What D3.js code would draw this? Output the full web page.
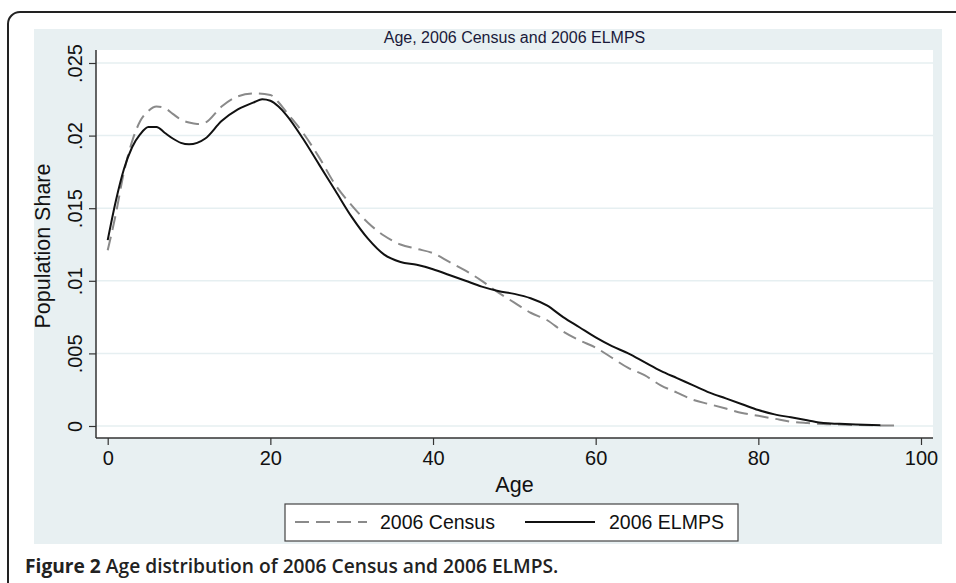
<!DOCTYPE html>
<html>
<head>
<meta charset="utf-8">
<script src="https://cdn.jsdelivr.net/npm/d3@7"></script>
<style>
  body { margin: 0; background: #fff; }
  svg { display: block; }
</style>
</head>
<body>
<svg id="chart" width="956" height="583"></svg>
<script>
// ages and density values
var censusAge = [0,1,2,3,4,5,6,7,8,9,10,11,12,14,16,18,20,21,22,24,26,28,30,32,34,36,38,40,42,44,46,48,50,52,54,56,58,60,62,64,66,68,70,72,74,76,78,80,82,84,86,88,90,92,95,97.5];
var censusShare = [0.0121,0.0146,0.0175,0.0196,0.0210,0.0217,0.0220,0.0219,0.0215,0.0211,0.0209,0.0208,0.0209,0.0220,0.0227,0.0229,0.0228,0.0223,0.0216,0.0202,0.0185,0.0166,0.0152,0.0140,0.0131,0.0125,0.0122,0.0119,0.0113,0.0107,0.0100,0.0092,0.0085,0.0078,0.0073,0.0065,0.0059,0.0054,0.0047,0.0040,0.0035,0.0028,0.0023,0.0018,0.0015,0.0012,0.0009,0.0007,0.0005,0.0003,0.0002,0.00013,0.0001,0.00007,0.00004,0.00002];

var elmpsAge = [0,1,2,3,4,5,6,7,8,9,10,11,12,14,16,18,19,20,21,22,24,26,28,30,32,34,36,38,40,42,44,46,48,50,52,54,56,58,60,62,64,66,68,70,72,74,76,78,80,82,84,86,88,90,92,95];
var elmpsShare = [0.0128,0.0155,0.0177,0.0192,0.0201,0.0206,0.0206,0.0202,0.0198,0.0195,0.0194,0.0195,0.0198,0.0210,0.0218,0.0223,0.0225,0.0224,0.0220,0.0214,0.0198,0.0180,0.0162,0.0144,0.0129,0.0118,0.0113,0.0111,0.0108,0.0104,0.0100,0.0096,0.0093,0.0091,0.0088,0.0083,0.0075,0.0068,0.0061,0.0055,0.0050,0.0044,0.0038,0.0033,0.0028,0.0023,0.0019,0.0015,0.0011,0.0008,0.0006,0.0004,0.0002,0.00015,0.0001,0.00005];

var xTicks = [0, 20, 40, 60, 80, 100];
var yTicks = [0, 0.005, 0.01, 0.015, 0.02, 0.025];
var yTickLabels = ["0", ".005", ".01", ".015", ".02", ".025"];
var seriesNames = ["2006 Census", "2006 ELMPS"];

var svg = d3.select("#chart");
var font = "'Liberation Sans', Arial, sans-serif";

// outer frame + stata background
svg.append("rect").attr("x", 8).attr("y", 12).attr("width", 970).attr("height", 600)
  .attr("rx", 12).attr("fill", "#fff").attr("stroke", "#222").attr("stroke-width", 2);
svg.append("rect").attr("x", 34).attr("y", 29).attr("width", 908).attr("height", 515)
  .attr("fill", "#e8f0f2");

var plot = {left: 96, right: 933, top: 50, bottom: 438};

var x = d3.scaleLinear().domain([0, 100]).range([107.7, 921]);
var y = d3.scaleLinear().domain([0, 0.025]).range([426, 63]);

svg.append("rect").attr("x", plot.left).attr("y", plot.top)
  .attr("width", plot.right - plot.left).attr("height", plot.bottom - plot.top)
  .attr("fill", "#fff");

// grid
svg.append("g").selectAll("line").data(yTicks).enter().append("line")
  .attr("x1", plot.left).attr("x2", plot.right)
  .attr("y1", function(d) { return y(d); }).attr("y2", function(d) { return y(d); })
  .attr("stroke", "#e6eff1").attr("stroke-width", 1.5);

// axes
var yAxis = svg.append("g").attr("transform", "translate(" + plot.left + ",0)")
  .call(d3.axisLeft(y).tickValues(yTicks).tickSize(7).tickSizeOuter(0)
    .tickFormat(function(d, i) { return yTickLabels[i]; }));
yAxis.select(".domain").remove();
yAxis.selectAll(".tick line").attr("stroke", "#333").attr("stroke-width", 1.2);
yAxis.selectAll(".tick text")
  .attr("font-family", font).attr("font-size", 20).attr("fill", "#111")
  .attr("text-anchor", "middle").attr("dy", 0).attr("x", 0)
  .attr("transform", "translate(-14,0) rotate(-90)");

var xAxis = svg.append("g").attr("transform", "translate(0," + plot.bottom + ")")
  .call(d3.axisBottom(x).tickValues(xTicks).tickSize(7).tickSizeOuter(0));
xAxis.select(".domain").remove();
xAxis.selectAll(".tick line").attr("stroke", "#333").attr("stroke-width", 1.2);
xAxis.selectAll(".tick text")
  .attr("font-family", font).attr("font-size", 20).attr("fill", "#111")
  .attr("dy", 0).attr("y", 27);

svg.append("line").attr("x1", plot.left).attr("x2", plot.left)
  .attr("y1", plot.top).attr("y2", plot.bottom).attr("stroke", "#333").attr("stroke-width", 1.5);
svg.append("line").attr("x1", plot.left).attr("x2", plot.right)
  .attr("y1", plot.bottom).attr("y2", plot.bottom).attr("stroke", "#333").attr("stroke-width", 1.5);

// lines
var line = d3.line()
  .x(function(d) { return x(d[0]); })
  .y(function(d) { return y(d[1]); })
  .curve(d3.curveMonotoneX);

svg.append("path").datum(d3.zip(censusAge, censusShare))
  .attr("d", line).attr("fill", "none")
  .attr("stroke", "#8a8a8a").attr("stroke-width", 2).attr("stroke-dasharray", "14,7");
svg.append("path").datum(d3.zip(elmpsAge, elmpsShare))
  .attr("d", line).attr("fill", "none")
  .attr("stroke", "#111").attr("stroke-width", 2);

// titles
var midX = (plot.left + plot.right) / 2;
svg.append("text").attr("x", midX).attr("y", 43).attr("text-anchor", "middle")
  .attr("font-family", font).attr("font-size", 16).attr("fill", "#1a1a3a")
  .text("Age, 2006 Census and 2006 ELMPS");
svg.append("text").attr("x", midX).attr("y", 492).attr("text-anchor", "middle")
  .attr("font-family", font).attr("font-size", 21.5).attr("fill", "#111")
  .text("Age");
svg.append("text").attr("transform", "translate(50,246) rotate(-90)").attr("text-anchor", "middle")
  .attr("font-family", font).attr("font-size", 21.5).attr("fill", "#111")
  .text("Population Share");

// legend
var lg = svg.append("g");
lg.append("rect").attr("x", 285).attr("y", 504).attr("width", 453).attr("height", 37)
  .attr("fill", "#fff").attr("stroke", "#444").attr("stroke-width", 1.2);
lg.append("line").attr("x1", 295).attr("x2", 367).attr("y1", 522).attr("y2", 522)
  .attr("stroke", "#8a8a8a").attr("stroke-width", 2).attr("stroke-dasharray", "14,7");
lg.append("text").attr("x", 380).attr("y", 529).attr("font-family", font).attr("font-size", 19.5)
  .attr("fill", "#111").text(seriesNames[0]);
lg.append("line").attr("x1", 525).attr("x2", 595).attr("y1", 522).attr("y2", 522)
  .attr("stroke", "#111").attr("stroke-width", 2);
lg.append("text").attr("x", 609).attr("y", 529).attr("font-family", font).attr("font-size", 19.5)
  .attr("fill", "#111").text(seriesNames[1]);

// caption
var cap = svg.append("text").attr("x", 25).attr("y", 573)
  .attr("font-family", "'Open Sans', 'Noto Sans', sans-serif").attr("font-size", 19.2).attr("fill", "#222");
cap.append("tspan").attr("font-weight", 700).text("Figure 2 ");
cap.append("tspan").attr("font-weight", 600).text("Age distribution of 2006 Census and 2006 ELMPS.");
</script>
</body>
</html>
